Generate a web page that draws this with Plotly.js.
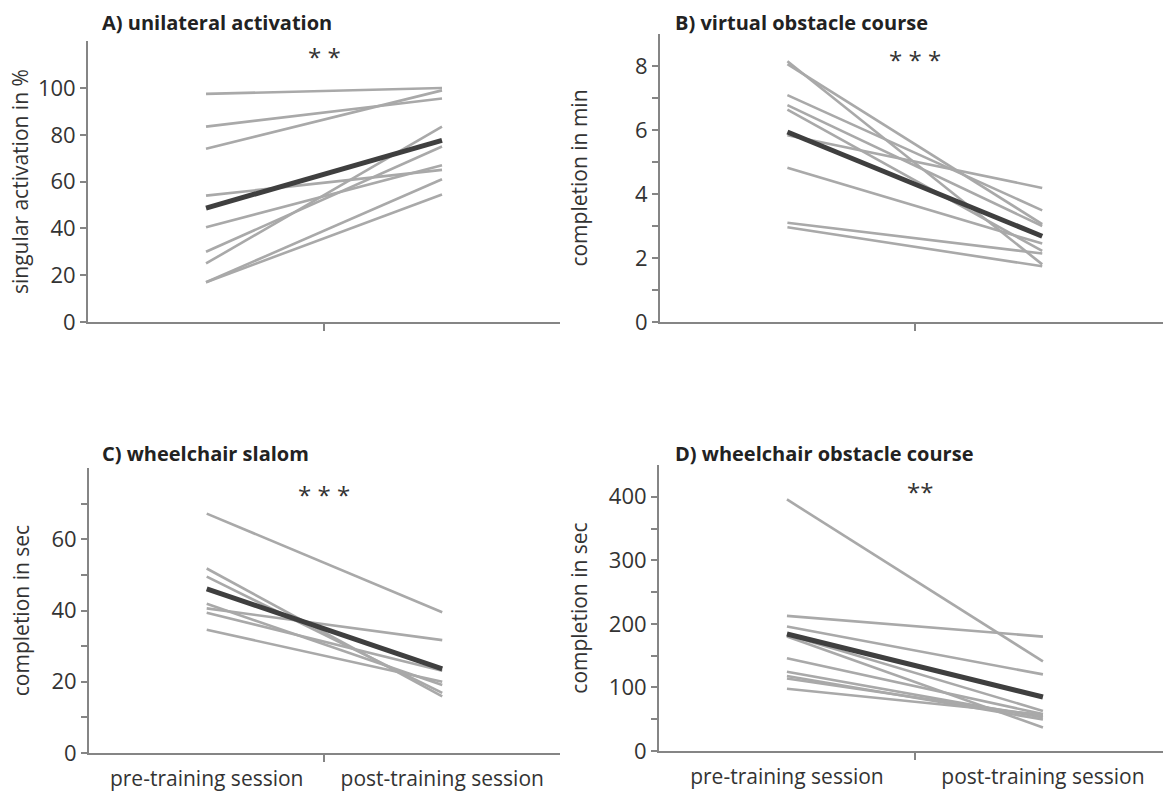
<!DOCTYPE html>
<html>
<head>
<meta charset="utf-8">
<script src="https://cdn.plot.ly/plotly-3.0.1.min.js"></script>
<style>html,body{margin:0;padding:0;background:#fff;}#chart{width:1163px;height:793px;}</style>
</head>
<body>
<div id="chart"></div>
<script>
// ---- data ----
const sessions = ["pre-training session", "post-training session"];

// A) unilateral activation (singular activation in %)
const unilateralPre  = [97.5, 83.5, 74, 54, 40.5, 30, 25, 17, 17];
const unilateralPost = [100, 95.5, 99, 65, 67, 75, 83.5, 61, 54.5];
const unilateralMean = [48.7, 77.6];
const unilateralTicks = [0, 20, 40, 60, 80, 100];

// B) virtual obstacle course (completion in min)
const virtualPre  = [8.15, 8.06, 7.09, 6.78, 6.64, 5.84, 4.82, 3.10, 2.96];
const virtualPost = [1.80, 3.06, 3.49, 3.00, 2.22, 4.19, 2.45, 2.14, 1.74];
const virtualMean = [5.94, 2.68];
const virtualTicks = [0, 2, 4, 6, 8];
const virtualMinor = [1, 3, 5, 7];

// C) wheelchair slalom (completion in sec)
const slalomPre  = [67.2, 51.8, 49.5, 41.9, 40.6, 39.4, 34.6];
const slalomPost = [39.5, 15.9, 16.9, 19.1, 31.7, 23.1, 20.0];
const slalomMean = [46.1, 23.6];
const slalomTicks = [0, 20, 40, 60];
const slalomMinor = [10, 30, 50, 70];

// D) wheelchair obstacle course (completion in sec)
const obstaclePre  = [395.8, 212.6, 195.8, 183, 180, 145.8, 124.7, 118, 114, 98];
const obstaclePost = [141, 180, 120.5, 63, 37, 58, 52.6, 49.5, 55, 57];
const obstacleMean = [184, 85];
const obstacleTicks = [0, 100, 200, 300, 400];
const obstacleMinor = [50, 150, 250, 350];

const panelTitles = ["A) unilateral activation", "B) virtual obstacle course", "C) wheelchair slalom", "D) wheelchair obstacle course"];
const yTitles = ["singular activation in %", "completion in min", "completion in sec", "completion in sec"];
const significance = ["* *", "* * *", "* * *", "**"];

// ---- build ----
const sessionX = sessions.map((s, i) => i);
const LIGHT = '#a9a9a9', DARK = '#3f3f3f', AXIS = '#858585';

const panels = [
  {pre: unilateralPre, post: unilateralPost, mean: unilateralMean, xa: 'x',  ya: 'y'},
  {pre: virtualPre,    post: virtualPost,    mean: virtualMean,    xa: 'x2', ya: 'y2'},
  {pre: slalomPre,     post: slalomPost,     mean: slalomMean,     xa: 'x3', ya: 'y3'},
  {pre: obstaclePre,   post: obstaclePost,   mean: obstacleMean,   xa: 'x4', ya: 'y4'}
];

const traces = [];
panels.forEach(p => {
  p.pre.forEach((v, i) => {
    traces.push({type: 'scatter', mode: 'lines', x: sessionX, y: [v, p.post[i]],
      xaxis: p.xa, yaxis: p.ya, line: {color: LIGHT, width: 2.6}, hoverinfo: 'skip', showlegend: false});
  });
  traces.push({type: 'scatter', mode: 'lines', x: sessionX, y: p.mean,
    xaxis: p.xa, yaxis: p.ya, line: {color: DARK, width: 5}, hoverinfo: 'skip', showlegend: false});
});

function xAxis(domain, range, anchor, showLabels) {
  return {
    domain: domain, range: range, anchor: anchor, showgrid: false, zeroline: false,
    showline: true, linecolor: AXIS, linewidth: 2,
    tickvals: sessionX, ticktext: sessions, ticks: '', showticklabels: showLabels,
    ticklabelstandoff: 6,
    tickfont: {size: 21, color: '#333'},
    minor: {tickvals: [0.5], ticks: 'outside', ticklen: 7, tickwidth: 2, tickcolor: AXIS}
  };
}
function yAxis(domain, range, anchor, tickvals, minorVals, title, standoff) {
  const ax = {
    domain: domain, range: range, anchor: anchor, showgrid: false, zeroline: false,
    showline: true, linecolor: AXIS, linewidth: 2,
    tickvals: tickvals, ticks: 'outside', ticklen: 6, tickwidth: 2, tickcolor: AXIS,
    tickfont: {size: 22, color: '#333'},
    title: {text: title, font: {size: 21, color: '#333'}, standoff: standoff}
  };
  if (minorVals) ax.minor = {tickvals: minorVals, ticks: 'outside', ticklen: 6, tickwidth: 2, tickcolor: AXIS};
  return ax;
}

const layout = {
  width: 1163, height: 793, margin: {l: 0, r: 0, t: 0, b: 0},
  paper_bgcolor: '#ffffff', plot_bgcolor: '#ffffff', showlegend: false,
  font: {family: '"Open Sans", "DejaVu Sans", sans-serif', size: 21, color: '#333'},
  xaxis:  xAxis([0.0757, 0.4815], [-0.5, 1.5],   'y',  false),
  xaxis2: xAxis([0.5675, 1.0],    [-0.5, 1.474], 'y2', false),
  xaxis3: xAxis([0.0765, 0.4815], [-0.5, 1.5],   'y3', true),
  xaxis4: xAxis([0.5666, 1.0],    [-0.5, 1.469], 'y4', true),
  yaxis:  yAxis([0.594, 0.948],  [0, 120], 'x',  unilateralTicks, null,          yTitles[0], 4),
  yaxis2: yAxis([0.594, 0.957],  [0, 9],   'x2', virtualTicks,    virtualMinor,  yTitles[1], 42),
  yaxis3: yAxis([0.0504, 0.4098],[0, 80],  'x3', slalomTicks,     slalomMinor,   yTitles[2], 16),
  yaxis4: yAxis([0.053, 0.4136], [0, 450], 'x4', obstacleTicks,   obstacleMinor, yTitles[3], 15),
  annotations: [
    {text: '<b>' + panelTitles[0] + '</b>', xref: 'paper', yref: 'paper', x: 0.086, y: 0.971, xanchor: 'left', yanchor: 'middle', showarrow: false, font: {size: 20, color: '#222'}},
    {text: '<b>' + panelTitles[1] + '</b>', xref: 'paper', yref: 'paper', x: 0.5787, y: 0.971, xanchor: 'left', yanchor: 'middle', showarrow: false, font: {size: 20, color: '#222'}},
    {text: '<b>' + panelTitles[2] + '</b>', xref: 'paper', yref: 'paper', x: 0.086, y: 0.428, xanchor: 'left', yanchor: 'middle', showarrow: false, font: {size: 20, color: '#222'}},
    {text: '<b>' + panelTitles[3] + '</b>', xref: 'paper', yref: 'paper', x: 0.5787, y: 0.428, xanchor: 'left', yanchor: 'middle', showarrow: false, font: {size: 20, color: '#222'}},
    {text: significance[0], xref: 'x',  yref: 'y',  x: 0.5,  y: 113.5, showarrow: false, font: {size: 24, color: '#333'}},
    {text: significance[1], xref: 'x2', yref: 'y2', x: 0.5,  y: 8.2,   showarrow: false, font: {size: 24, color: '#333'}},
    {text: significance[2], xref: 'x3', yref: 'y3', x: 0.5,  y: 72.6,  showarrow: false, font: {size: 24, color: '#333'}},
    {text: significance[3], xref: 'x4', yref: 'y4', x: 0.52, y: 408,   showarrow: false, font: {size: 24, color: '#333'}}
  ]
};

Plotly.newPlot('chart', traces, layout, {staticPlot: true, displayModeBar: false});
</script>
</body>
</html>
